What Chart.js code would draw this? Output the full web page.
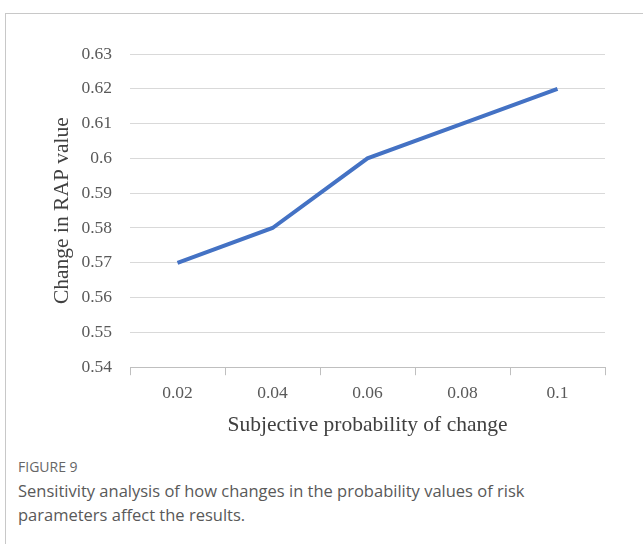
<!DOCTYPE html>
<html>
<head>
<meta charset="utf-8">
<script src="https://cdn.jsdelivr.net/npm/chart.js@4"></script>
<style>
  body { margin: 0; background: #fff; width: 643px; height: 544px; overflow: hidden; position: relative; }
  #frame { position: absolute; left: 5px; top: 13px; width: 700px; height: 600px; border-left: 1px solid #c8c8c8; border-top: 1px solid #c8c8c8; }
  #wrap { position: absolute; left: 0; top: 0; width: 643px; height: 445px; }
  #fig { position: absolute; left: 18px; top: 457px; font-family: "Open Sans", sans-serif; font-size: 14px; color: #666; }
  #cap { position: absolute; left: 18px; top: 479px; width: 590px; font-family: "Open Sans", sans-serif; font-size: 16.5px; line-height: 24px; color: #595959; }
</style>
</head>
<body>
<div id="frame"></div>
<div id="wrap"><canvas id="js--chart"></canvas></div>
<div id="fig">FIGURE 9</div>
<div id="cap">Sensitivity analysis of how changes in the probability values of risk parameters affect the results.</div>
<script>
const kansLabels = ['0.02', '0.04', '0.06', '0.08', '0.1'];
const rapWaarden = [0.57, 0.58, 0.60, 0.61, 0.62];
const yMin = 0.54;
const yMax = 0.63;
const yStap = 0.01;

const serif = "'Liberation Serif', 'DejaVu Serif', serif";

const data = {
  labels: kansLabels,
  datasets: [{
    label: 'Change in RAP value',
    data: rapWaarden,
    borderColor: '#4472c4',
    backgroundColor: '#4472c4',
    borderWidth: 4,
    pointRadius: 0,
    tension: 0
  }]
};

const config = {
  type: 'line',
  data: data,
  options: {
    responsive: true,
    maintainAspectRatio: false,
    animation: false,
    layout: { padding: { left: 45, right: 38, top: 54, bottom: 3 } },
    plugins: { legend: { display: false }, tooltip: { enabled: false } },
    scales: {
      x: {
        offset: true,
        grid: { offset: true, drawOnChartArea: false, tickLength: 8, color: '#bfbfbf', tickColor: '#bfbfbf' },
        border: { display: true, color: '#bfbfbf', width: 1 },
        ticks: { color: '#595959', font: { family: serif, size: 17.5 }, padding: 8 },
        title: { display: true, text: 'Subjective probability of change', color: '#404040', font: { family: serif, size: 21.5 }, padding: { top: 0, bottom: 4 } }
      },
      y: {
        min: yMin,
        max: yMax,
        grid: { color: '#d9d9d9', drawTicks: false },
        border: { display: false },
        afterFit: function(scale){ scale.width = 85; },
        ticks: {
          stepSize: yStap,
          color: '#595959',
          font: { family: serif, size: 17.5 },
          padding: 18,
          callback: function(v){ return Math.round(v * 100) / 100 + ''; }
        },
        title: { display: true, text: 'Change in RAP value', color: '#404040', font: { family: serif, size: 21.5 }, padding: { top: 4, bottom: 4 } }
      }
    }
  }
};

new Chart(document.getElementById('js--chart'), config);
</script>
</body>
</html>
